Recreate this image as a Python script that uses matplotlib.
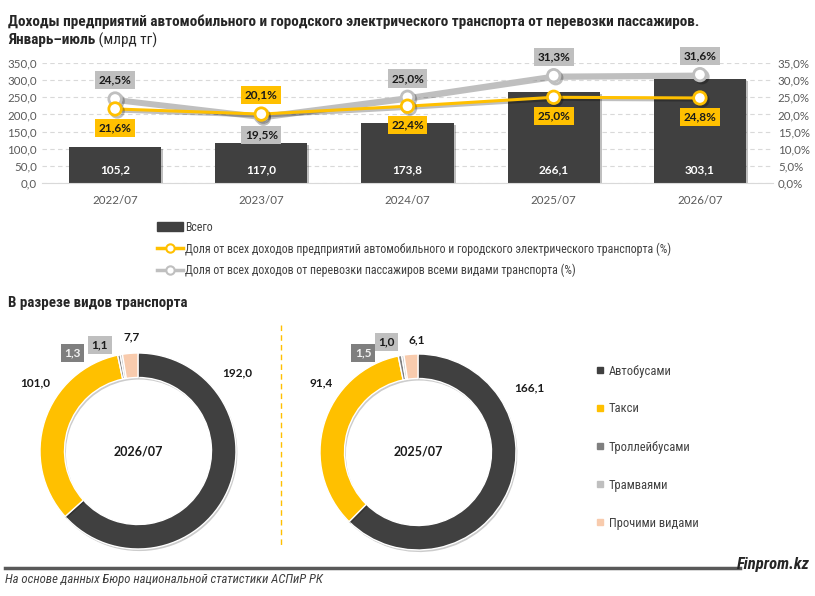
import matplotlib
matplotlib.use('Agg')
import matplotlib.pyplot as plt
import matplotlib.patheffects as pe
import matplotlib.font_manager as fm
from matplotlib.lines import Line2D
from matplotlib.patches import Patch

# --- data ---
years = ['2022/07', '2023/07', '2024/07', '2025/07', '2026/07']
total = [105.2, 117.0, 173.8, 266.1, 303.1]
share_auto = [21.6, 20.1, 22.4, 25.0, 24.8]
share_all = [24.5, 19.5, 25.0, 31.3, 31.6]

kinds = ['Автобусами', 'Такси', 'Троллейбусами', 'Трамваями', 'Прочими видами']
split_2026 = [192.0, 101.0, 1.3, 1.1, 7.7]
split_2025 = [166.1, 91.4, 1.5, 1.0, 6.1]

# --- style ---
DARK = '#404040'
YELLOW = '#FFC000'
GRAY = '#BFBFBF'
kind_colors = ['#404040', '#FFC000', '#7F7F7F', '#BFBFBF', '#F8CBAD']

fonts = fm.fontManager.ttflist
names = {f.name for f in fonts}
# a narrow face for titles / legends, if one is around
NARROW = dict(family='Liberation Sans')
SCALE = 0.84
for cand in ['Liberation Sans Narrow', 'Roboto Condensed', 'Open Sans Condensed']:
    if cand in names:
        NARROW = dict(family=cand)
        SCALE = 1.0
        break
else:
    if any(f.name == 'DejaVu Sans' and f.stretch in ('condensed', 'semi-condensed') for f in fonts):
        NARROW = dict(family='DejaVu Sans', stretch='condensed')
        SCALE = 0.92
BODY = 'Lato' if 'Lato' in names else 'DejaVu Sans'
plt.rcParams['font.family'] = [BODY, 'DejaVu Sans']

W, H = 815, 596
fig = plt.figure(figsize=(W / 100, H / 100), dpi=100)


def fx(px):
    return px / W


def fy(py):
    return 1 - py / H


# titles
fig.text(fx(8), fy(22), 'Доходы предприятий автомобильного и городского электрического транспорта от перевозки пассажиров.',
         fontsize=11 * SCALE, weight='bold', color='#262626', va='center', **NARROW)
t2 = fig.text(fx(8), fy(40), 'Январь–июль', fontsize=11 * SCALE, weight='bold', color='#262626',
              va='center', **NARROW)
fig.canvas.draw()
bb = t2.get_window_extent()
fig.text(bb.x1 / W, fy(40), ' (млрд тг)', fontsize=11 * SCALE, color='#262626', va='center', **NARROW)

# --- top combo chart ---
ax = fig.add_axes([fx(42), fy(183), fx(773 - 42), (183 - 63) / H])
x = list(range(len(years)))
bars = ax.bar(x, total, width=0.63, color=DARK, zorder=2)
for b in bars:
    b.set_path_effects([pe.SimplePatchShadow(offset=(1.5, -1.5), shadow_rgbFace='black', alpha=0.25), pe.Normal()])
for i, v in enumerate(total):
    ax.annotate(f'{v:.1f}'.replace('.', ','), xy=(i, 0), xytext=(0, 9.5), textcoords='offset points',
                ha='center', va='center', color='white', weight='bold', fontsize=8.5, zorder=5)
ax.set_xlim(-0.5, len(years) - 0.5)
ax.set_ylim(0, 350)
ax.set_yticks(range(0, 351, 50))
ax.set_yticklabels([f'{v:.1f}'.replace('.', ',') for v in range(0, 351, 50)])
ax.set_xticks(x)
ax.set_xticklabels(years)
ax.tick_params(length=0, labelsize=8.3, colors='#595959')
ax.tick_params(axis='x', pad=9)
ax.yaxis.grid(True, linestyle=(0, (4, 3)), color='#D9D9D9', lw=0.8, zorder=0)
ax.set_axisbelow(True)
for s in ['top', 'right', 'left']:
    ax.spines[s].set_visible(False)
ax.spines['bottom'].set_color('#D9D9D9')

ax2 = ax.twinx()
ax2.set_ylim(0, 35)
ax2.set_yticks(range(0, 36, 5))
ax2.set_yticklabels([f'{v:.1f}%'.replace('.', ',') for v in range(0, 36, 5)])
ax2.tick_params(length=0, labelsize=8.3, colors='#595959')
for s in ax2.spines.values():
    s.set_visible(False)

shadow = [pe.SimpleLineShadow(offset=(1.5, -1.5), shadow_color='black', alpha=0.25), pe.Normal()]
ax2.plot(x, share_all, color=GRAY, lw=3, marker='o', ms=9, mfc='white', mec=GRAY, mew=2,
         zorder=3, path_effects=shadow)
ax2.plot(x, share_auto, color=YELLOW, lw=2.2, marker='o', ms=9, mfc='white', mec=YELLOW, mew=2,
         zorder=4, path_effects=shadow)

for i in x:
    up_all = share_all[i] >= share_auto[i]
    for vals, col, up in [(share_all, GRAY, up_all), (share_auto, YELLOW, not up_all)]:
        ax2.annotate(f'{vals[i]:.1f}%'.replace('.', ','), xy=(i, vals[i]),
                     xytext=(0, 13.5 if up else -13.5), textcoords='offset points',
                     ha='center', va='center', fontsize=8.5, weight='bold', color='#1a1a1a', zorder=6,
                     bbox=dict(boxstyle='square,pad=0.3', fc=col, ec='none'))

handles = [Patch(color=DARK),
           Line2D([], [], color=YELLOW, lw=2.5, marker='o', ms=6, mfc='white', mec=YELLOW, mew=1.5),
           Line2D([], [], color=GRAY, lw=2.5, marker='o', ms=6, mfc='white', mec=GRAY, mew=1.5)]
labels = ['Всего',
          'Доля от всех доходов предприятий автомобильного и городского электрического транспорта (%)',
          'Доля от всех доходов от перевозки пассажиров всеми видами транспорта (%)']
fig.legend(handles, labels, loc='upper left', bbox_to_anchor=(fx(146), fy(210)), frameon=False,
           handlelength=2.2, handletextpad=0.2, labelspacing=0.7,
           prop=dict(size=8.6 * SCALE, **NARROW), labelcolor='#404040')

fig.text(fx(8), fy(303), 'В разрезе видов транспорта', fontsize=10.8 * SCALE,
         weight='bold', color='#262626', va='center', **NARROW)

# --- donuts ---
R = 98
label_pos = {
    '2026/07': [(1.01, 0.80), (-1.05, 0.70), (-0.67, 1.0), (-0.39, 1.08), (-0.06, 1.16)],
    '2025/07': [(1.14, 0.65), (-0.99, 0.71), (-0.56, 1.01), (-0.32, 1.12), (-0.01, 1.14)],
}
for cx, cy, name, vals in [(138, 451, '2026/07', split_2026), (418, 452, '2025/07', split_2025)]:
    dax = fig.add_axes([fx(cx - R), fy(cy + R), fx(2 * R), 2 * R / H])
    wedges, _ = dax.pie(vals, colors=kind_colors, startangle=90, counterclock=False, radius=1,
                        wedgeprops=dict(width=0.25, edgecolor='white', linewidth=1))
    for w in wedges:
        w.set_path_effects([pe.SimplePatchShadow(offset=(1, -1.5), shadow_rgbFace='black', alpha=0.2), pe.Normal()])
    dax.set_xlim(-1, 1)
    dax.set_ylim(-1, 1)
    dax.text(0, 0, name, ha='center', va='center', fontsize=9, weight='bold', color='#1a1a1a')
    for k, v in enumerate(vals):
        px, py = label_pos[name][k]
        txt = f'{v:.1f}'.replace('.', ',')
        kw = dict(ha='center', va='center', fontsize=8.5, weight='bold', color='#1a1a1a')
        if k == 2:
            kw.update(color='#F2F2F2', bbox=dict(boxstyle='square,pad=0.3', fc='#7F7F7F', ec='none'))
        elif k == 3:
            kw.update(bbox=dict(boxstyle='square,pad=0.3', fc='#BFBFBF', ec='none'))
        dax.text(px, py, txt, **kw)

# separator
fig.add_artist(Line2D([fx(281), fx(281)], [fy(325), fy(548)], color=YELLOW, lw=1, linestyle=(0, (4, 3))))

# donut legend
kind_handles = [Line2D([], [], ls='none', marker='s', ms=5, color=c) for c in kind_colors]
fig.legend(kind_handles, kinds, loc='center left', bbox_to_anchor=(fx(585), fy(447)), frameon=False,
           handlelength=0.6, handletextpad=0.4, labelspacing=2.0,
           prop=dict(size=9 * SCALE, **NARROW), labelcolor='#404040')

# footer
fig.add_artist(Line2D([fx(5), fx(740)], [fy(568), fy(568)], color='#595959', lw=2.5))
fig.text(fx(810), fy(565), 'Finprom.kz', ha='right', va='center', fontsize=12 * SCALE,
         weight='bold', style='italic', color='#262626', **NARROW)
fig.text(fx(5), fy(579), 'На основе данных Бюро национальной статистики АСПиР РК', ha='left', va='center',
         fontsize=9.2 * SCALE, style='italic', color='#404040', **NARROW)

fig.savefig('out.png', dpi=100)
